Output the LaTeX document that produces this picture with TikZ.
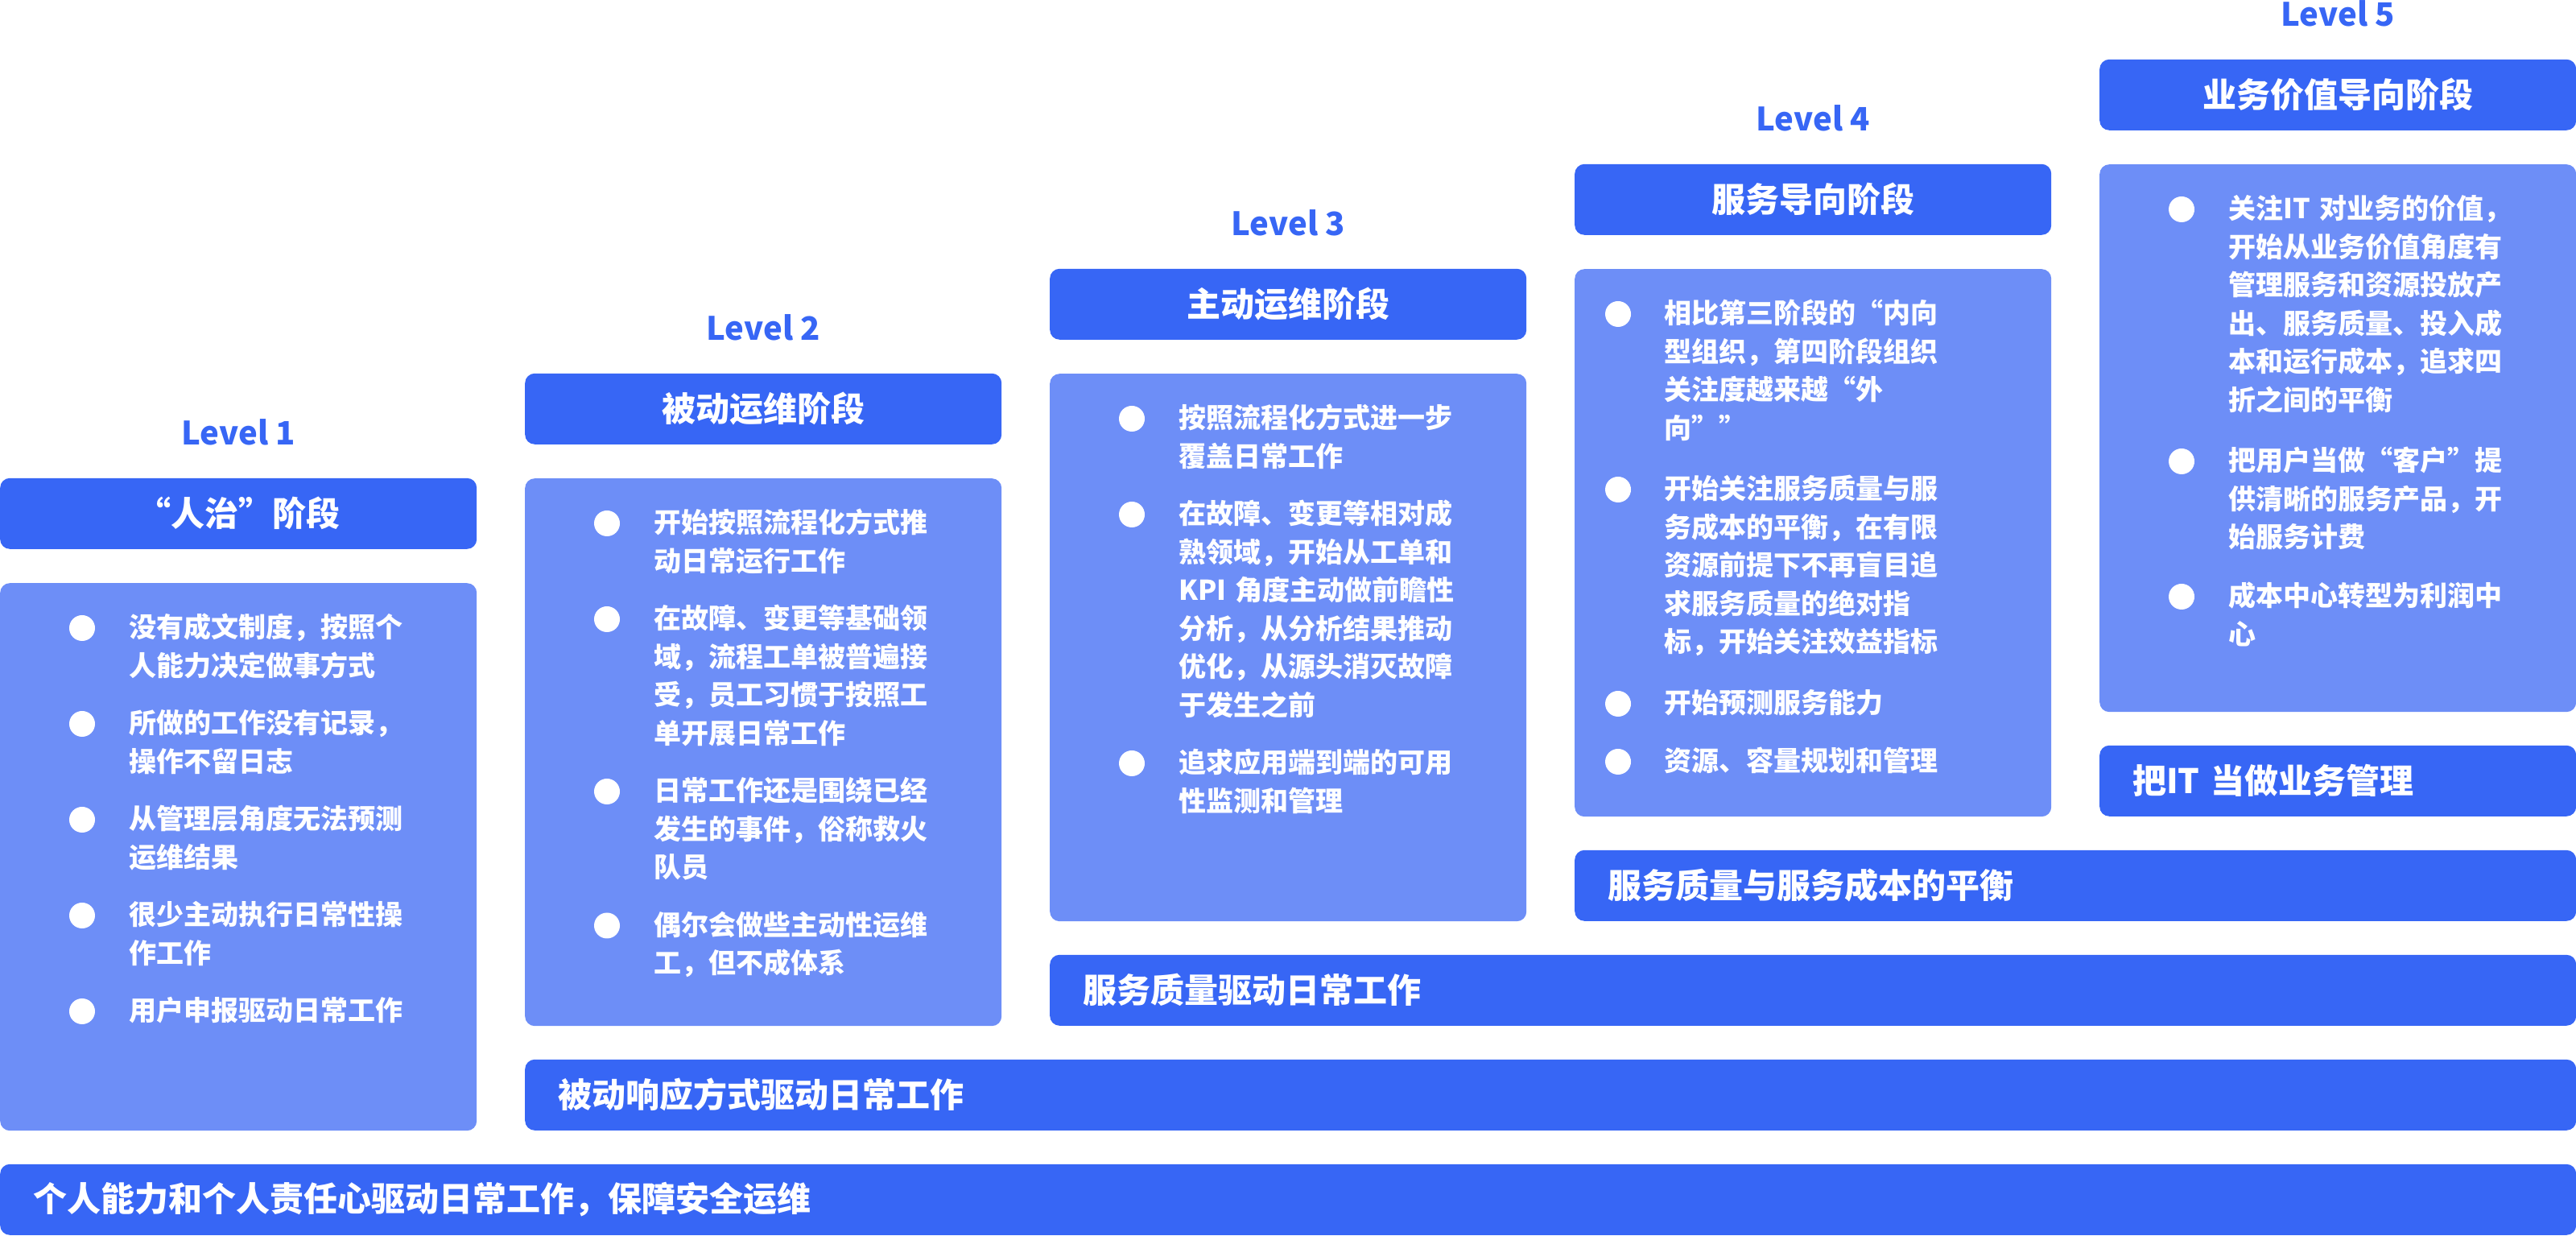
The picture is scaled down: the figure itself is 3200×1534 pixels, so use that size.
\documentclass[tikz,border=0pt]{standalone}
\usepackage{fontspec}
\setmainfont{Noto Sans CJK SC}
\usepackage{tikz}
\usetikzlibrary{positioning}

\definecolor{stageblue}{HTML}{3766F5}
\definecolor{boxblue}{HTML}{6D8EF7}

\begin{document}
\begin{tikzpicture}[x=1pt,y=1pt,
	leveltag/.style={inner sep=0pt,text=stageblue,font=\fontsize{40pt}{46pt}\selectfont\bfseries},
	stagehead/.style={rectangle,rounded corners=12pt,fill=stageblue,text=white,minimum width=592pt,minimum height=88pt,inner sep=0pt,font=\fontsize{42pt}{50pt}\selectfont\bfseries},
	stagebox/.style={rectangle,rounded corners=12pt,fill=boxblue,minimum width=592pt,minimum height=680pt,inner sep=0pt},
	basebar/.style={rectangle,rounded corners=12pt,fill=stageblue,text=white,anchor=south west,minimum height=88pt,inner xsep=41pt,inner ysep=0pt,align=left,font=\fontsize{42pt}{50pt}\selectfont\bfseries},
	dot/.style={circle,fill=white,minimum size=32pt,inner sep=0pt},
	itemtext/.style={anchor=base west,inner sep=0pt,text=white,text width=420pt,align=left,font=\fontsize{34pt}{47.5pt}\selectfont\bfseries}]
	%frame
	\useasboundingbox (0,0) rectangle (3200,1534);
	
	%bars at the foot
	\node[basebar,text width=3118pt] (b0) at (0,0)      {个人能力和个人责任心驱动日常工作，保障安全运维};
	\node[basebar,text width=2466pt] (b1) at (652,130)  {被动响应方式驱动日常工作};
	\node[basebar,text width=1814pt] (b2) at (1304,260) {服务质量驱动日常工作};
	\node[basebar,text width=1162pt] (b3) at (1956,390) {服务质量与服务成本的平衡};
	\node[basebar,text width=510pt]  (b4) at (2608,520) {把IT 当做业务管理};
	
	%stage headers
	\node[stagehead,anchor=south west] (h1) at (0,852)    {“人治”阶段};
	\node[stagehead,anchor=south west] (h2) at (652,982)  {被动运维阶段};
	\node[stagehead,anchor=south west] (h3) at (1304,1112) {主动运维阶段};
	\node[stagehead,anchor=south west] (h4) at (1956,1242) {服务导向阶段};
	\node[stagehead,anchor=south west] (h5) at (2608,1372) {业务价值导向阶段};
	%
	\node[leveltag,above=40pt of h1] (t1) {Level 1};
	\node[leveltag,above=40pt of h2] (t2) {Level 2};
	\node[leveltag,above=40pt of h3] (t3) {Level 3};
	\node[leveltag,above=40pt of h4] (t4) {Level 4};
	\node[leveltag,above=40pt of h5] (t5) {Level 5};
	
	%stage boxes
	\node[stagebox,below=42pt of h1] (c1) {};
	\node[stagebox,below=42pt of h2] (c2) {};
	\node[stagebox,below=42pt of h3] (c3) {};
	\node[stagebox,below=42pt of h4] (c4) {};
	\node[stagebox,below=42pt of h5] (c5) {};
	
	%items - level 1
	\node[dot] (d11) at (102,754) {};	\node[itemtext] (i11) at (160,742) {没有成文制度，按照个\\人能力决定做事方式};
	\node[dot] (d12) at (102,635) {};	\node[itemtext] (i12) at (160,623) {所做的工作没有记录，\\操作不留日志};
	\node[dot] (d13) at (102,516) {};	\node[itemtext] (i13) at (160,504) {从管理层角度无法预测\\运维结果};
	\node[dot] (d14) at (102,397) {};	\node[itemtext] (i14) at (160,385) {很少主动执行日常性操\\作工作};
	\node[dot] (d15) at (102,278) {};	\node[itemtext] (i15) at (160,266) {用户申报驱动日常工作};
	%
	%items - level 2
	\node[dot] (d21) at (754,884) {};	\node[itemtext] (i21) at (812,872) {开始按照流程化方式推\\动日常运行工作};
	\node[dot] (d22) at (754,765) {};	\node[itemtext] (i22) at (812,753) {在故障、变更等基础领\\域，流程工单被普遍接\\受，员工习惯于按照工\\单开展日常工作};
	\node[dot] (d23) at (754,551) {};	\node[itemtext] (i23) at (812,539) {日常工作还是围绕已经\\发生的事件，俗称救火\\队员};
	\node[dot] (d24) at (754,384.5) {};	\node[itemtext] (i24) at (812,372.5) {偶尔会做些主动性运维\\工，但不成体系};
	%
	%items - level 3
	\node[dot] (d31) at (1406,1014) {};	\node[itemtext] (i31) at (1464,1002) {按照流程化方式进一步\\覆盖日常工作};
	\node[dot] (d32) at (1406,895) {};	\node[itemtext] (i32) at (1464,883) {在故障、变更等相对成\\熟领域，开始从工单和\\KPI 角度主动做前瞻性\\分析，从分析结果推动\\优化，从源头消灭故障\\于发生之前};
	\node[dot] (d33) at (1406,586) {};	\node[itemtext] (i33) at (1464,574) {追求应用端到端的可用\\性监测和管理};
	%
	%items - level 4 (sits further left)
	\node[dot] (d41) at (2010,1144) {};	\node[itemtext] (i41) at (2067,1132) {相比第三阶段的“内向\\型组织，第四阶段组织\\关注度越来越“外\\向””};
	\node[dot] (d42) at (2010,926) {};	\node[itemtext] (i42) at (2067,914) {开始关注服务质量与服\\务成本的平衡，在有限\\资源前提下不再盲目追\\求服务质量的绝对指\\标，开始关注效益指标};
	\node[dot] (d43) at (2010,660) {};	\node[itemtext] (i43) at (2067,648) {开始预测服务能力};
	\node[dot] (d44) at (2010,588) {};	\node[itemtext] (i44) at (2067,576) {资源、容量规划和管理};
	%
	%items - level 5
	\node[dot] (d51) at (2710,1274) {};	\node[itemtext] (i51) at (2768,1262) {关注IT 对业务的价值，\\开始从业务价值角度有\\管理服务和资源投放产\\出、服务质量、投入成\\本和运行成本，追求四\\折之间的平衡};
	\node[dot] (d52) at (2710,961) {};	\node[itemtext] (i52) at (2768,949) {把用户当做“客户”提\\供清晰的服务产品，开\\始服务计费};
	\node[dot] (d53) at (2710,793) {};	\node[itemtext] (i53) at (2768,781) {成本中心转型为利润中\\心};
\end{tikzpicture}
\end{document}
